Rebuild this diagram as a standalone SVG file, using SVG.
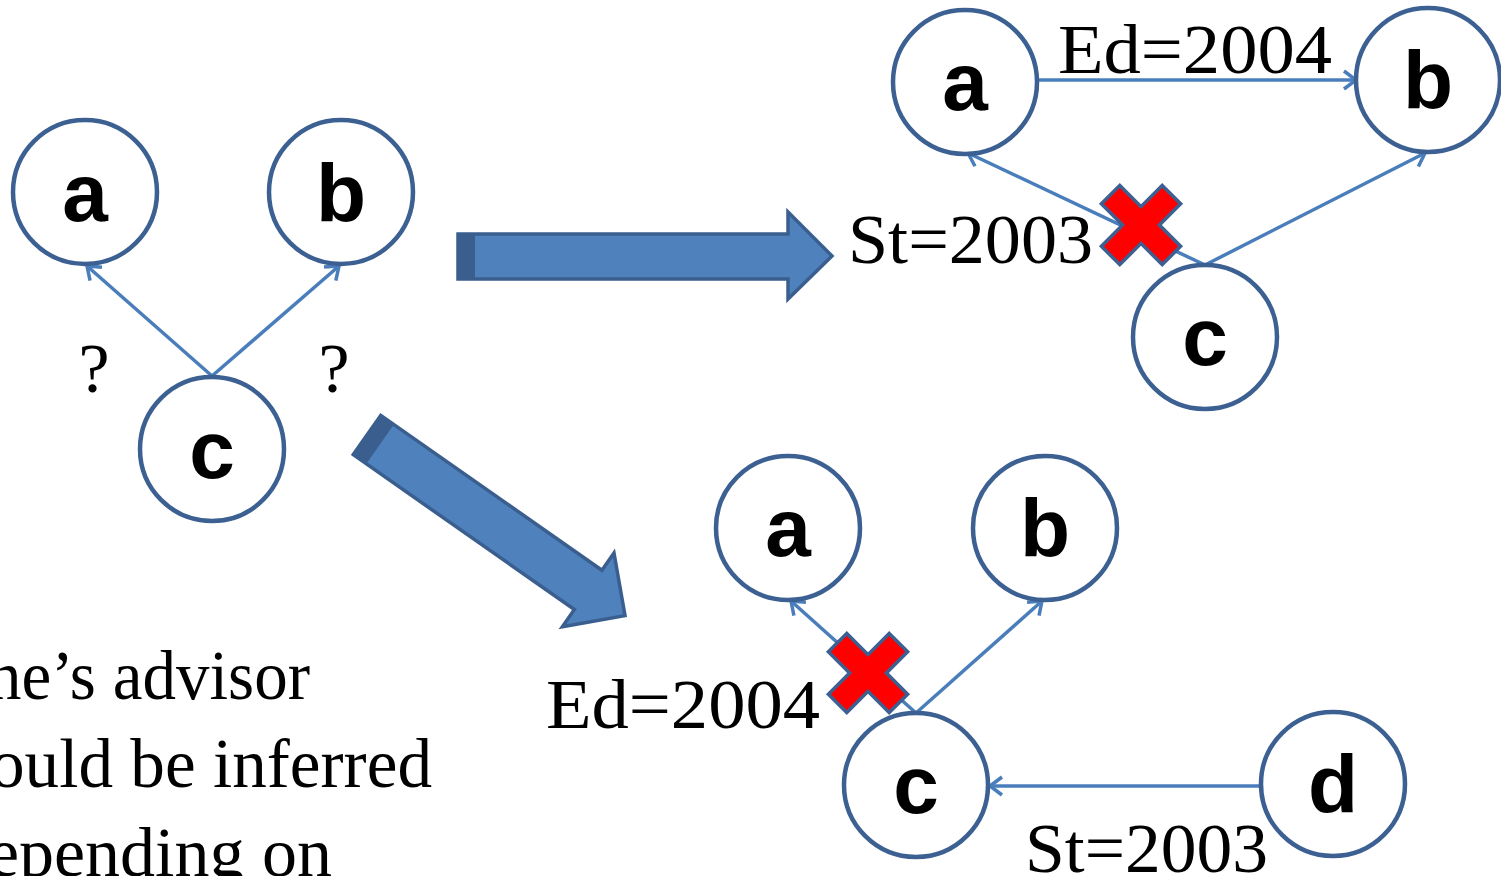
<svg xmlns="http://www.w3.org/2000/svg" width="1501" height="876" viewBox="0 0 1501 876">
  <defs>
    <style>
      .node circle { fill: #ffffff; stroke: #3B6091; stroke-width: 4.5; }
      .node text { font-family: "Liberation Sans", Arial, sans-serif; font-weight: bold; font-size: 82px; text-anchor: middle; fill: #000000; }
      .edge { stroke: #4A7EBB; stroke-width: 3.5; fill: none; marker-end: url(#open); }
      .lbl { font-family: "Liberation Serif", "Times New Roman", serif; font-size: 70px; fill: #000000; }
      .body { font-family: "Liberation Serif", "Times New Roman", serif; font-size: 70px; fill: #000000; }
      .big { fill: #4F81BD; stroke: #3A5F8F; stroke-width: 3.5; stroke-linejoin: miter; }
      .bigside { fill: #3A5F8F; }
      .cross { fill: #FF0000; stroke: #3B6091; stroke-width: 3.5; stroke-linejoin: miter; }
    </style>
    <marker id="open" markerUnits="userSpaceOnUse" markerWidth="22" markerHeight="22" refX="15" refY="11" orient="auto">
      <path d="M3,2 L15,11 L3,20" fill="none" stroke="#4A7EBB" stroke-width="3.5"/>
    </marker>
    <!-- rotated plus shape used as a "removed" mark -->
    <polygon id="xmark" points="-13,-43 13,-43 13,-13 43,-13 43,13 13,13 13,43 -13,43 -13,13 -43,13 -43,-13 -13,-13" transform="rotate(45)"/>
  </defs>

  <rect width="1501" height="876" fill="#ffffff"/>

  <!-- connectors -->
  <g id="connectors">
    <line class="edge" x1="212" y1="376" x2="87" y2="266"/>
    <line class="edge" x1="212" y1="376" x2="339" y2="266"/>

    <line class="edge" x1="1038" y1="80" x2="1356" y2="80"/>
    <line class="edge" x1="1205" y1="265" x2="968" y2="153"/>
    <line class="edge" x1="1205" y1="265" x2="1425" y2="153"/>

    <line class="edge" x1="916" y1="713" x2="791" y2="601"/>
    <line class="edge" x1="916" y1="713" x2="1042" y2="601"/>
    <line class="edge" x1="1261" y1="786" x2="990" y2="786"/>
  </g>

  <!-- left graph -->
  <g id="node-a1" class="node"><circle cx="85" cy="192" r="72"/><text x="85" y="221">a</text></g>
  <g id="node-b1" class="node"><circle cx="341" cy="192" r="72"/><text x="341" y="221">b</text></g>
  <g id="node-c1" class="node"><circle cx="212" cy="449" r="72"/><text x="212" y="478">c</text></g>
  <text class="lbl" x="94" y="392" text-anchor="middle" font-size="60">?</text>
  <text class="lbl" x="334" y="392" text-anchor="middle" font-size="60">?</text>

  <!-- transition arrows -->
  <g id="arrow-right">
    <path class="big" d="M458,234 L788,234 L788,212 L832,256 L788,299 L788,279 L458,279 Z"/>
    <rect class="bigside" x="458" y="234" width="17" height="45"/>
  </g>
  <g id="arrow-down" transform="translate(367,435) rotate(35)">
    <path class="big" d="M0,-24 L270,-24 L270,-45 L315,0 L270,45 L270,24 L0,24 Z"/>
    <rect class="bigside" x="0" y="-24" width="16" height="48"/>
  </g>

  <!-- top right graph -->
  <g id="node-a2" class="node"><circle cx="965" cy="82" r="72"/><text x="965" y="110">a</text></g>
  <g id="node-b2" class="node"><circle cx="1428" cy="80" r="72"/><text x="1428" y="108">b</text></g>
  <g id="node-c2" class="node"><circle cx="1205" cy="337" r="72"/><text x="1205" y="365">c</text></g>
  <text class="lbl" x="1058" y="73" textLength="274" lengthAdjust="spacingAndGlyphs">Ed=2004</text>
  <text class="lbl" x="848" y="263" textLength="245" lengthAdjust="spacingAndGlyphs">St=2003</text>
  <use href="#xmark" class="cross" x="1141" y="225"/>

  <!-- bottom right graph -->
  <g id="node-a3" class="node"><circle cx="788" cy="528" r="72"/><text x="788" y="556">a</text></g>
  <g id="node-b3" class="node"><circle cx="1045" cy="528" r="72"/><text x="1045" y="556">b</text></g>
  <g id="node-c3" class="node"><circle cx="916" cy="785" r="72"/><text x="916" y="813">c</text></g>
  <g id="node-d3" class="node"><circle cx="1333" cy="784" r="72"/><text x="1333" y="812">d</text></g>
  <text class="lbl" x="546" y="728" textLength="274" lengthAdjust="spacingAndGlyphs">Ed=2004</text>
  <text class="lbl" x="1025" y="872" textLength="243" lengthAdjust="spacingAndGlyphs">St=2003</text>
  <use href="#xmark" class="cross" x="868" y="673"/>

  <!-- body text -->
  <text class="body" x="-12" y="699" textLength="322" lengthAdjust="spacingAndGlyphs">ne’s advisor</text>
  <text class="body" x="-10" y="787" textLength="442" lengthAdjust="spacingAndGlyphs">ould be inferred</text>
  <text class="body" x="-12" y="876" textLength="344" lengthAdjust="spacingAndGlyphs">epending on</text>
</svg>
